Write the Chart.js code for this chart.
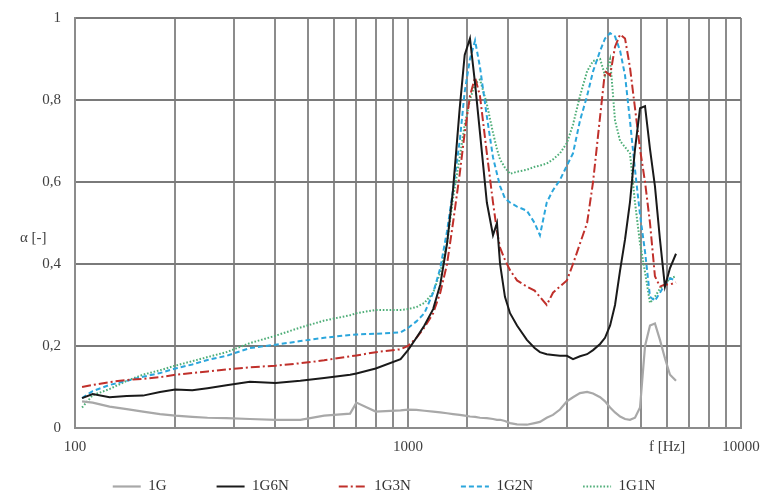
<!DOCTYPE html>
<html>
<head>
<meta charset="utf-8">
<script src="https://cdn.jsdelivr.net/npm/chart.js@4/dist/chart.umd.min.js"></script>
<style>
  html, body { margin: 0; padding: 0; background: #fff; }
  #wrap { width: 764px; height: 497px; }
</style>
</head>
<body>
<div id="wrap"><canvas id="grafica" width="764" height="497"></canvas></div>
<script>
// frecuencias [Hz]
const freqs = [105, 113, 127, 143, 160, 180, 200, 225, 250, 285, 335, 400, 475, 560, 670, 700, 800, 950,
  1000, 1060, 1120, 1190, 1250, 1310, 1365, 1430, 1480, 1535, 1590, 1645, 1725, 1800, 1850, 1890, 1955,
  2025, 2125, 2275, 2400, 2490, 2610, 2725, 2860, 3000, 3130, 3285, 3450, 3595, 3775, 3905, 4045, 4185,
  4335, 4485, 4640, 4805, 4975, 5150, 5330, 5515, 5710, 5910, 6120, 6380];

const s1G = [0.065, 0.062, 0.052, 0.046, 0.040, 0.034, 0.030, 0.027, 0.025, 0.024, 0.022, 0.020, 0.020, 0.030, 0.035, 0.062, 0.040, 0.043,
  0.045, 0.044, 0.042, 0.040, 0.038, 0.036, 0.034, 0.032, 0.030, 0.028, 0.027, 0.025, 0.024, 0.022, 0.020, 0.020, 0.017,
  0.012, 0.009, 0.008, 0.012, 0.015, 0.025, 0.032, 0.045, 0.065, 0.075, 0.085, 0.088, 0.084, 0.075, 0.065, 0.050, 0.038,
  0.028, 0.022, 0.020, 0.025, 0.050, 0.200, 0.250, 0.255, 0.215, 0.170, 0.130, 0.115];

const s1G6N = [0.073, 0.083, 0.075, 0.078, 0.079, 0.088, 0.094, 0.092, 0.097, 0.104, 0.113, 0.110, 0.115, 0.122, 0.130, 0.133, 0.145, 0.168,
  0.190, 0.220, 0.250, 0.290, 0.350, 0.450, 0.580, 0.780, 0.910, 0.950, 0.840, 0.720, 0.550, 0.470, 0.500, 0.400, 0.320,
  0.280, 0.250, 0.215, 0.195, 0.185, 0.180, 0.178, 0.176, 0.176, 0.168, 0.175, 0.180, 0.190, 0.205, 0.220, 0.250, 0.300,
  0.385, 0.460, 0.550, 0.680, 0.780, 0.785, 0.680, 0.590, 0.460, 0.345, 0.390, 0.425];

const s1G3N = [0.100, 0.105, 0.112, 0.117, 0.120, 0.124, 0.130, 0.134, 0.138, 0.143, 0.148, 0.152, 0.158, 0.165, 0.175, 0.177, 0.185, 0.192,
  0.200, 0.220, 0.245, 0.280, 0.330, 0.400, 0.500, 0.620, 0.720, 0.810, 0.855, 0.810, 0.670, 0.550, 0.480, 0.440, 0.410,
  0.385, 0.360, 0.345, 0.335, 0.320, 0.300, 0.330, 0.345, 0.360, 0.400, 0.450, 0.500, 0.600, 0.760, 0.870, 0.860, 0.930,
  0.960, 0.950, 0.880, 0.780, 0.680, 0.600, 0.500, 0.370, 0.345, 0.350, 0.350, 0.355];

const s1G2N = [0.073, 0.090, 0.105, 0.115, 0.125, 0.134, 0.145, 0.155, 0.166, 0.176, 0.195, 0.203, 0.212, 0.220, 0.227, 0.228, 0.230, 0.233,
  0.244, 0.260, 0.280, 0.330, 0.390, 0.480, 0.580, 0.700, 0.820, 0.900, 0.945, 0.880, 0.760, 0.660, 0.620, 0.590, 0.560,
  0.550, 0.540, 0.530, 0.500, 0.470, 0.550, 0.580, 0.605, 0.640, 0.670, 0.750, 0.810, 0.870, 0.920, 0.950, 0.963, 0.955,
  0.920, 0.860, 0.750, 0.630, 0.520, 0.430, 0.320, 0.310, 0.330, 0.350, 0.365, 0.360];

const s1G1N = [0.050, 0.080, 0.095, 0.115, 0.130, 0.141, 0.152, 0.163, 0.173, 0.185, 0.207, 0.225, 0.245, 0.262, 0.275, 0.280, 0.288, 0.288,
  0.290, 0.295, 0.305, 0.330, 0.380, 0.450, 0.560, 0.660, 0.740, 0.800, 0.840, 0.850, 0.790, 0.720, 0.680, 0.655, 0.635,
  0.620, 0.625, 0.630, 0.637, 0.640, 0.645, 0.655, 0.670, 0.695, 0.740, 0.810, 0.870, 0.895, 0.900, 0.860, 0.900, 0.750,
  0.700, 0.685, 0.670, 0.550, 0.450, 0.380, 0.305, 0.320, 0.340, 0.350, 0.365, 0.370];

const etiquetasY = { 0: '0', 0.2: '0,2', 0.4: '0,4', 0.6: '0,6', 0.8: '0,8', 1: '1' };
const etiquetasX = { 100: '100', 1000: '1000', 6000: 'f [Hz]', 10000: '10000' };

const fuente = "'Liberation Serif', 'DejaVu Serif', serif";

function serie(label, ys, color, dash, width) {
  return {
    label: label,
    data: freqs.map((f, i) => ({ x: f, y: ys[i] })),
    borderColor: color,
    backgroundColor: color,
    borderWidth: width,
    borderDash: dash,
    pointRadius: 0,
    fill: false,
    tension: 0,
  };
}

// titulo del eje y (horizontal)
const tituloY = {
  id: 'tituloY',
  afterDraw(chart) {
    const ctx = chart.ctx;
    ctx.save();
    ctx.font = "15px " + fuente;
    ctx.fillStyle = '#404040';
    ctx.textBaseline = 'middle';
    ctx.fillText('α [-]', 20, 238);
    ctx.restore();
  }
};

// sube la leyenda (el padding grande solo sirve para separar los items)
const ajusteLeyenda = {
  id: 'ajusteLeyenda',
  afterLayout(chart) {
    const lg = chart.legend;
    if (!lg) return;
    lg.top -= 29;
    lg.left -= 24;
    lg.right -= 24;
  }
};

new Chart(document.getElementById('grafica'), {
  type: 'line',
  data: {
    datasets: [
      serie('1G', s1G, '#a8a8a8', [], 2.2),
      serie('1G6N', s1G6N, '#1a1a1a', [], 2),
      serie('1G3N', s1G3N, '#c0302b', [9, 3, 2, 3], 2),
      serie('1G2N', s1G2N, '#2ba6dc', [5, 3], 2),
      serie('1G1N', s1G1N, '#4fae78', [1.6, 1.8], 2),
    ],
  },
  options: {
    responsive: false,
    animation: false,
    layout: { padding: { left: 0, right: 23, top: 18, bottom: 0 } },
    plugins: {
      legend: {
        position: 'bottom',
        fullSize: false,
        maxHeight: 39,
        labels: {
          usePointStyle: true,
          pointStyle: 'line',
          pointStyleWidth: 28,
          boxWidth: 28,
          boxHeight: 2,
          padding: 50,
          color: '#333',
          font: { family: fuente, size: 15 },
          // con usePointStyle la leyenda pierde el trazo discontinuo de la serie
          generateLabels(chart) {
            const items = Chart.defaults.plugins.legend.labels.generateLabels(chart);
            items.forEach((it) => {
              const ds = chart.data.datasets[it.datasetIndex];
              it.lineDash = ds.borderDash;
              it.lineWidth = ds.borderWidth;
              it.strokeStyle = ds.borderColor;
            });
            return items;
          },
        },
      },
      tooltip: { enabled: false },
    },
    scales: {
      x: {
        type: 'logarithmic',
        min: 100,
        max: 10000,
        afterFit(axis) { axis.height = 30; axis.paddingLeft = 0; axis.paddingRight = 0; },
        grid: { color: '#8c8c8c', lineWidth: 2, drawTicks: false },
        border: { color: '#8c8c8c', width: 2 },
        ticks: {
          autoSkip: false,
          maxRotation: 0,
          padding: 10,
          color: '#404040',
          font: { family: fuente, size: 15 },
          callback: (v) => etiquetasX[v] || '',
        },
      },
      y: {
        min: 0,
        max: 1,
        afterFit(axis) { axis.width = 75; axis.paddingTop = 0; axis.paddingBottom = 0; },
        grid: { color: '#7a7a7a', lineWidth: 2, drawTicks: false },
        border: { color: '#8c8c8c', width: 2 },
        ticks: {
          stepSize: 0.2,
          padding: 14,
          color: '#404040',
          font: { family: fuente, size: 15 },
          callback: (v) => etiquetasY[Math.round(v * 10) / 10] ?? '',
        },
      },
    },
  },
  plugins: [tituloY, ajusteLeyenda],
});
</script>
</body>
</html>
